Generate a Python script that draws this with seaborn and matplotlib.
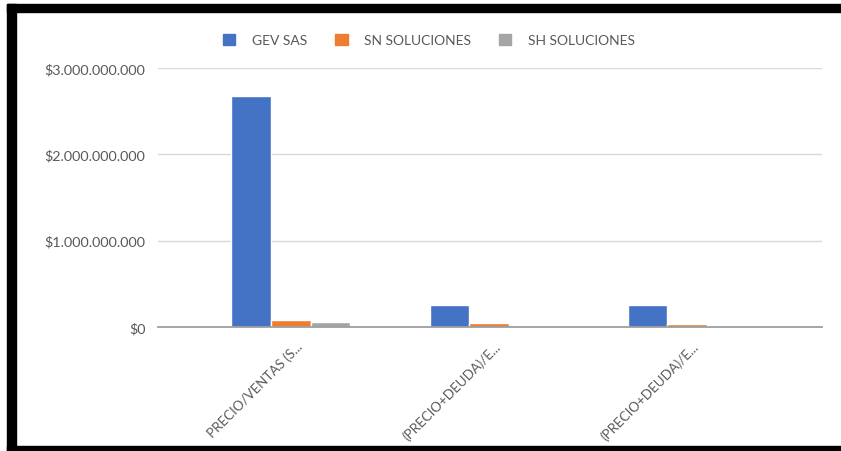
import pandas as pd
import matplotlib
matplotlib.use("Agg")
import matplotlib.pyplot as plt
import matplotlib.ticker as mticker
import matplotlib.transforms as mtrans
from matplotlib.patches import Rectangle
import seaborn as sns

# data
metric_ids = ["m1", "m2", "m3"]
tick_labels = ["PRECIO/VENTAS (S...", "(PRECIO+DEUDA)/E...", "(PRECIO+DEUDA)/E..."]
companies = ["GEV SAS", "SN SOLUCIONES", "SH SOLUCIONES"]
gev_values = [2.68e9, 0.255e9, 0.255e9]
sn_values = [0.08e9, 0.045e9, 0.03e9]
sh_values = [0.06e9, 0.0, 0.0]
colors = ["#4472C4", "#ED7D31", "#A5A5A5"]


def money_fmt(v, _):
    return "$" + f"{int(round(v)):,}".replace(",", ".")


def main():
    rows = []
    for name, vals in zip(companies, [gev_values, sn_values, sh_values]):
        for m, v in zip(metric_ids, vals):
            rows.append({"metric": m, "company": name, "value": v})
    df = pd.DataFrame(rows)

    sns.set_theme(style="white")
    plt.rcParams["font.family"] = ["Lato", "DejaVu Sans"]

    fig = plt.figure(figsize=(8.41, 4.52), dpi=100)
    ax = fig.add_axes([158 / 841, 1 - 328 / 452, (822 - 158) / 841, (328 - 69) / 452])

    sns.barplot(data=df, x="metric", y="value", hue="company", order=metric_ids,
                hue_order=companies, palette=colors, width=0.6, gap=0,
                saturation=1, ax=ax, legend=True)

    ax.set_xlim(-0.67, 2.68)
    ax.set_ylim(0, 3e9)
    ax.set_yticks([0, 1e9, 2e9, 3e9])
    ax.yaxis.set_major_formatter(mticker.FuncFormatter(money_fmt))
    ax.grid(axis="y", color="#D9D9D9", linewidth=1)
    ax.set_axisbelow(True)
    for s in ["top", "right", "left"]:
        ax.spines[s].set_visible(False)
    ax.spines["bottom"].set_color("#9E9E9E")
    ax.spines["bottom"].set_linewidth(1.3)

    ax.set_xlabel("")
    ax.set_ylabel("")
    ax.set_xticks(range(len(metric_ids)))
    ax.set_xticklabels(tick_labels, rotation=45, ha="right", rotation_mode="anchor",
                       fontsize=9.6, color="#595959")
    ax.tick_params(axis="x", length=0, pad=9)
    ax.tick_params(axis="y", length=0, pad=9, labelsize=10.4, labelcolor="#595959")
    offset = mtrans.ScaledTranslation(5 / 100, 0, fig.dpi_scale_trans)
    for lab in ax.get_xticklabels():
        lab.set_transform(lab.get_transform() + offset)

    ax.get_legend().remove()
    handles = [Rectangle((0, 0), 1, 1, color=c) for c in colors]
    fig.legend(handles, companies, loc="center", bbox_to_anchor=(429 / 841, 1 - 41 / 452),
               ncol=3, frameon=False, fontsize=10, labelcolor="#595959",
               handlelength=0.9, handleheight=0.9, handletextpad=1.2, columnspacing=2.0)

    # black frame of the screenshot
    fig.add_artist(Rectangle((7 / 841, 1 - 13 / 452), 1, 8 / 452, transform=fig.transFigure,
                             color="black", zorder=10))
    fig.add_artist(Rectangle((7 / 841, 0), 9 / 841, 1 - 5 / 452, transform=fig.transFigure,
                             color="black", zorder=10))
    fig.add_artist(Rectangle((7 / 841, 0), 1, 5 / 452, transform=fig.transFigure,
                             color="black", zorder=10))

    fig.savefig("out.png", dpi=100)
    plt.close(fig)


if __name__ == "__main__":
    main()
